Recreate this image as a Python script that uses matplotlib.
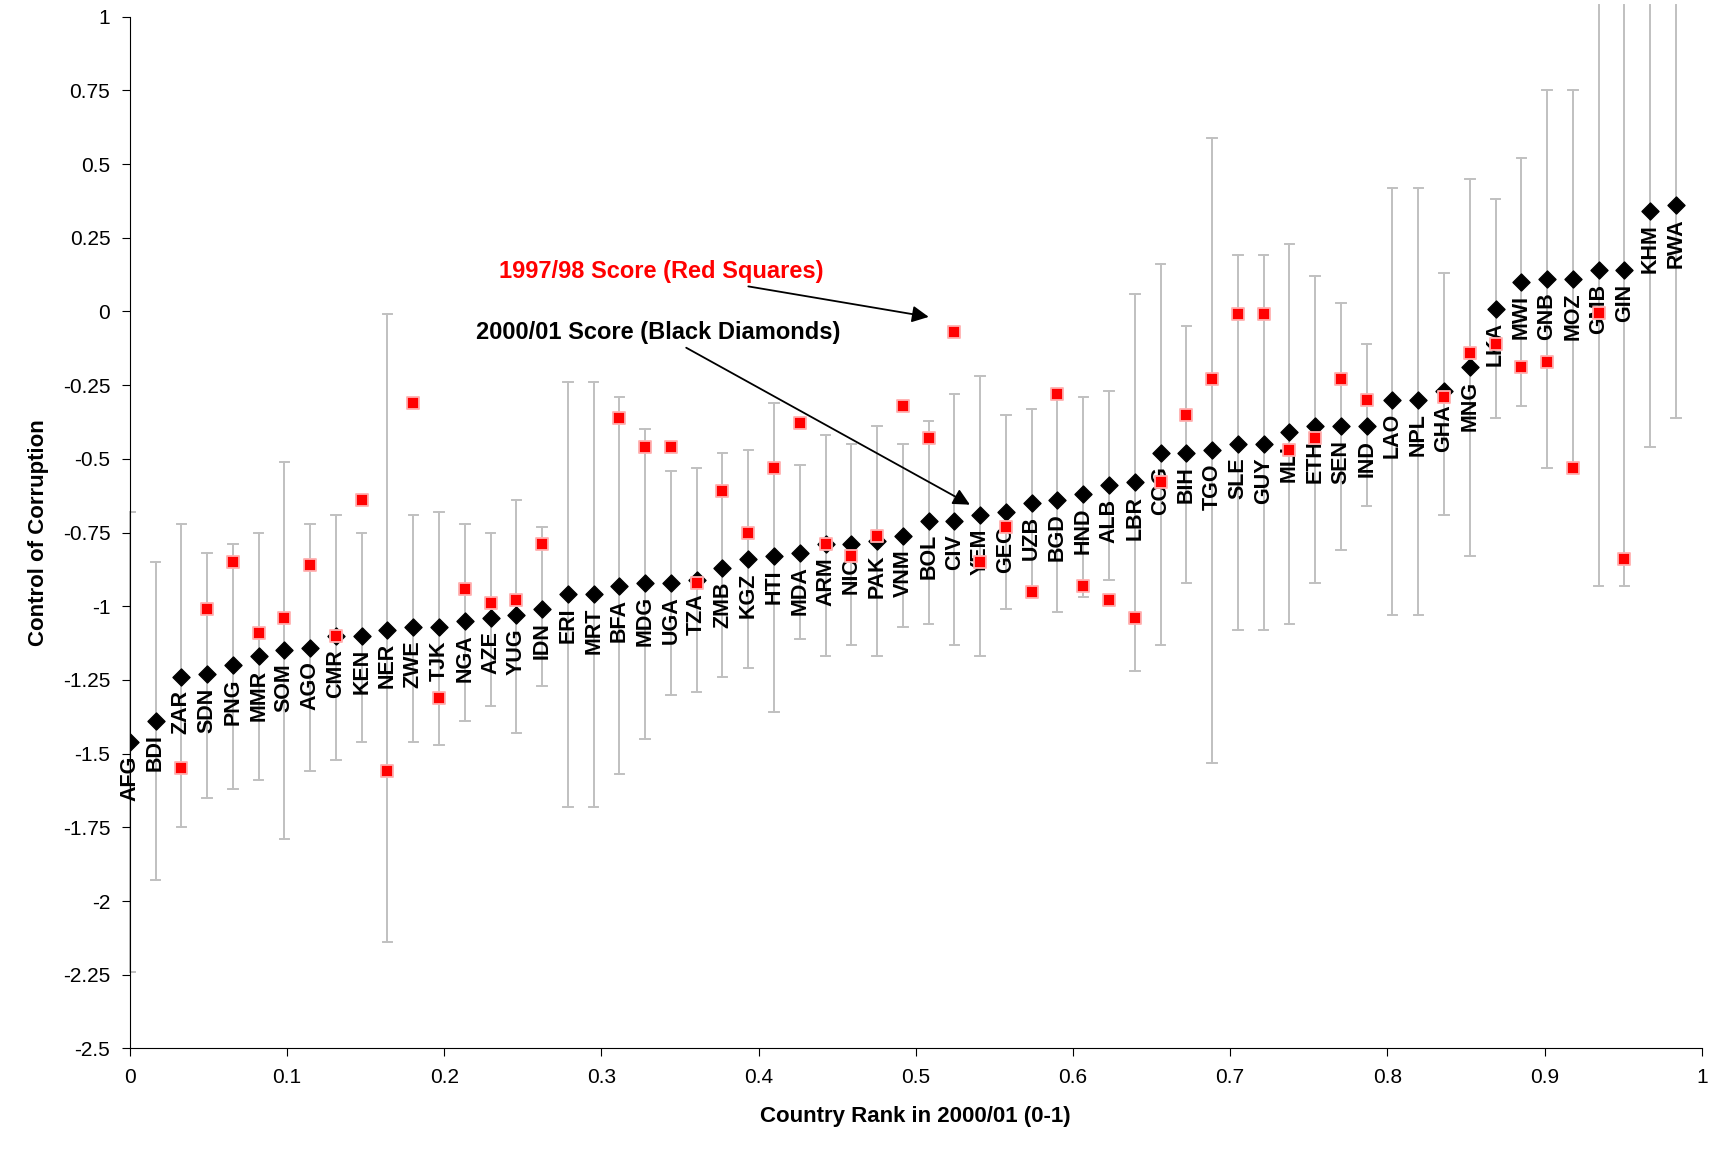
import matplotlib
matplotlib.use("Agg")
import matplotlib.pyplot as plt
import numpy as np
from matplotlib.ticker import FuncFormatter

plt.rcParams['font.family'] = ['Liberation Sans', 'DejaVu Sans']

countries = ["AFG","BDI","ZAR","SDN","PNG","MMR","SOM","AGO","CMR","KEN","NER","ZWE","TJK","NGA","AZE","YUG","IDN","ERI","MRT","BFA","MDG","UGA","TZA","ZMB","KGZ","HTI","MDA","ARM","NIC","PAK","VNM","BOL","CIV","YEM","GEO","UZB","BGD","HND","ALB","LBR","COG","BIH","TGO","SLE","GUY","MLI","ETH","SEN","IND","LAO","NPL","GHA","MNG","LKA","MWI","GNB","MOZ","GMB","GIN","KHM","RWA"]
score_0001 = [-1.46,-1.39,-1.24,-1.23,-1.20,-1.17,-1.15,-1.14,-1.10,-1.10,-1.08,-1.07,-1.07,-1.05,-1.04,-1.03,-1.01,-0.96,-0.96,-0.93,-0.92,-0.92,-0.91,-0.87,-0.84,-0.83,-0.82,-0.79,-0.79,-0.78,-0.76,-0.71,-0.71,-0.69,-0.68,-0.65,-0.64,-0.62,-0.59,-0.58,-0.48,-0.48,-0.47,-0.45,-0.45,-0.41,-0.39,-0.39,-0.39,-0.30,-0.30,-0.27,-0.19,0.01,0.10,0.11,0.11,0.14,0.14,0.34,0.36]
score_9798 = [None,None,-1.55,-1.01,-0.85,-1.09,-1.04,-0.86,-1.10,-0.64,-1.56,-0.31,-1.31,-0.94,-0.99,-0.98,-0.79,None,None,-0.36,-0.46,-0.46,-0.92,-0.61,-0.75,-0.53,-0.38,-0.79,-0.83,-0.76,-0.32,-0.43,-0.07,-0.85,-0.73,-0.95,-0.28,-0.93,-0.98,-1.04,-0.58,-0.35,-0.23,-0.01,-0.01,-0.47,-0.43,-0.23,-0.30,None,None,-0.29,-0.14,-0.11,-0.19,-0.17,-0.53,-0.005,-0.84,None,None]
err_high = [-0.68,-0.85,-0.72,-0.82,-0.79,-0.75,-0.51,-0.72,-0.69,-0.75,-0.01,-0.69,-0.68,-0.72,-0.75,-0.64,-0.73,-0.24,-0.24,-0.29,-0.40,-0.54,-0.53,-0.48,-0.47,-0.31,-0.52,-0.42,-0.45,-0.39,-0.45,-0.37,-0.28,-0.22,-0.35,-0.33,-0.29,-0.29,-0.27,0.06,0.16,-0.05,0.59,0.19,0.19,0.23,0.12,0.03,-0.11,0.42,0.42,0.13,0.45,0.38,0.52,0.75,0.75,1.04,1.04,1.04,1.04]
err_low = [-2.24,-1.93,-1.75,-1.65,-1.62,-1.59,-1.79,-1.56,-1.52,-1.46,-2.14,-1.46,-1.47,-1.39,-1.34,-1.43,-1.27,-1.68,-1.68,-1.57,-1.45,-1.30,-1.29,-1.24,-1.21,-1.36,-1.11,-1.17,-1.13,-1.17,-1.07,-1.06,-1.13,-1.17,-1.01,-0.97,-1.02,-0.97,-0.91,-1.22,-1.13,-0.92,-1.53,-1.08,-1.08,-1.06,-0.92,-0.81,-0.66,-1.03,-1.03,-0.69,-0.83,-0.36,-0.32,-0.53,-0.53,-0.93,-0.93,-0.46,-0.36]

n = len(countries)
x = np.arange(n) / 61.0
y = np.array(score_0001)

fig = plt.figure(figsize=(17.17, 11.49), dpi=100)
ax = fig.add_axes([0.0756, 0.0875, 0.9155, 0.898])

for xi, lo, hi in zip(x, err_low, err_high):
    ax.plot([xi, xi], [lo, hi], color='#c0c0c0', lw=1.4, clip_on=False, zorder=1)
    for v in (lo, hi):
        if v <= 1:
            ax.plot([xi-0.003, xi+0.003], [v, v], color='#c0c0c0', lw=1.4, zorder=1)

ax.scatter(x, y, marker='D', s=75, color='black', zorder=3)
rx = [xi for xi, v in zip(x, score_9798) if v is not None]
ry = [v for v in score_9798 if v is not None]
ax.scatter(rx, ry, marker='s', s=80, facecolor='red', edgecolor='#ffb0b0', linewidths=1.3, zorder=4)

for xi, yi, c in zip(x, y, countries):
    ax.text(xi, yi - 0.045, c, rotation=90, ha='center', va='top', fontsize=15.5, fontweight='bold')

ax.annotate("1997/98 Score (Red Squares)", xy=(0.510, -0.02), xytext=(0.338, 0.135),
            ha='center', va='center', color='red', fontsize=17, fontweight='bold',
            arrowprops=dict(arrowstyle='-|>', color='black', lw=1.3, mutation_scale=25))
ax.annotate("2000/01 Score (Black Diamonds)", xy=(0.536, -0.66), xytext=(0.336, -0.07),
            ha='center', va='center', color='black', fontsize=17, fontweight='bold',
            arrowprops=dict(arrowstyle='-|>', color='black', lw=1.3, mutation_scale=25))

ax.set_xlim(0, 1)
ax.set_ylim(-2.5, 1)
ax.set_xticks(np.arange(0, 1.01, 0.1))
ax.set_yticks(np.arange(-2.5, 1.01, 0.25))
fmt = FuncFormatter(lambda v, p: ('%g' % round(v, 2)))
ax.xaxis.set_major_formatter(fmt)
ax.yaxis.set_major_formatter(fmt)
ax.tick_params(labelsize=15, direction='out', length=6, pad=8)
ax.spines['top'].set_visible(False)
ax.spines['right'].set_visible(False)
ax.set_xlabel("Country Rank in 2000/01 (0-1)", fontsize=16, fontweight='bold', labelpad=14)
ax.set_ylabel("Control of Corruption", fontsize=16, fontweight='bold', labelpad=10)

fig.savefig("out.png", dpi=100)
